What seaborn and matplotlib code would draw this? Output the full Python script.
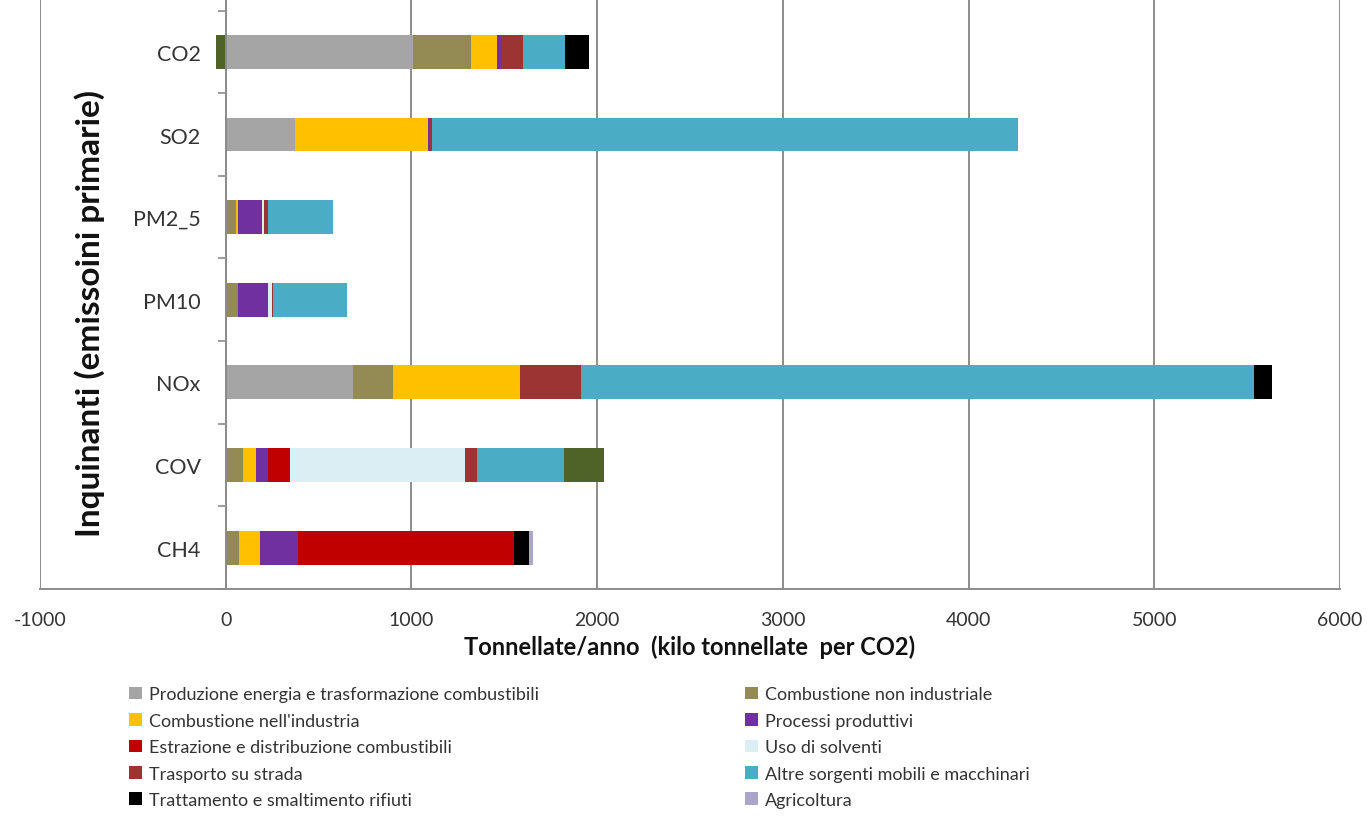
import numpy as np
import pandas as pd
import matplotlib
matplotlib.use("Agg")
import matplotlib.pyplot as plt
import seaborn as sns
from matplotlib.patches import Patch
from matplotlib.ticker import FixedLocator

# Pollutants (top to bottom)
inquinanti = ["CO2", "SO2", "PM2_5", "PM10", "NOx", "COV", "CH4"]

# Emission sources, in stacking order
fonti = [
    "Produzione energia e trasformazione combustibili",
    "Combustione non industriale",
    "Combustione nell'industria",
    "Processi produttivi",
    "Estrazione e distribuzione combustibili",
    "Uso di solventi",
    "Trasporto su strada",
    "Altre sorgenti mobili e macchinari",
    "Trattamento e smaltimento rifiuti",
    "Agricoltura",
    "Altre sorgenti e assorbimenti",
]

# Values per source, one entry per pollutant (same order as `inquinanti`)
produzione_energia = [1010, 371, 0, 0, 688, 0, 0]
combustione_non_ind = [313, 0, 55, 65, 213, 91, 72]
combustione_ind = [139, 720, 10, 0, 681, 72, 113]
processi_produttivi = [18, 8, 129, 161, 0, 63, 206]
estrazione_distrib = [0, 0, 0, 0, 0, 119, 1160]
uso_solventi = [0, 0, 14, 21, 0, 945, 0]
trasporto_strada = [120, 12, 18, 10, 332, 65, 0]
altre_mobili = [228, 3155, 353, 394, 3624, 466, 0]
rifiuti = [129, 0, 0, 0, 96, 0, 81]
agricoltura = [0, 0, 0, 0, 0, 0, 25]
assorbimenti = [-55, 0, 0, 0, 0, 215, 0]

serie = [produzione_energia, combustione_non_ind, combustione_ind,
         processi_produttivi, estrazione_distrib, uso_solventi,
         trasporto_strada, altre_mobili, rifiuti, agricoltura, assorbimenti]

colori = ["#A5A5A5", "#948A54", "#FFC000", "#7030A0", "#C00000",
          "#DAEEF3", "#9B3432", "#4BACC6", "#000000", "#A9A6C9", "#4F6228"]

sns.set_theme(style="white")
plt.rcParams["font.family"] = ["Lato", "DejaVu Sans"]
plt.rcParams["axes.unicode_minus"] = False

fig = plt.figure(figsize=(13.67, 8.37), dpi=100)
ax = fig.add_axes([40 / 1367, 1 - 590 / 837, 1300 / 1367, 590 / 837])

vals = np.array(serie, dtype=float)
pos = np.clip(vals, 0, None)
neg = np.clip(vals, None, 0)
cum = np.cumsum(pos, axis=0)

# Stacked bars: draw cumulative totals from the outermost segment inwards
for i in range(len(fonti) - 1, -1, -1):
    df = pd.DataFrame({"inquinante": inquinanti, "valore": cum[i]})
    sns.barplot(data=df, x="valore", y="inquinante", order=inquinanti,
                color=colori[i], width=0.41, linewidth=0, saturation=1,
                orient="h", ax=ax, errorbar=None)

# Negative contributions (absorptions)
for i in range(len(fonti)):
    if neg[i].min() < 0:
        df = pd.DataFrame({"inquinante": inquinanti, "valore": neg[i]})
        sns.barplot(data=df, x="valore", y="inquinante", order=inquinanti,
                    color=colori[i], width=0.41, linewidth=0, saturation=1,
                    orient="h", ax=ax, errorbar=None)

ax.set_xlim(-1000, 6000)
ax.set_ylim(6.5, -0.64)
ax.set_xticks(np.arange(-1000, 6001, 1000))
ax.set_axisbelow(True)
ax.grid(axis="x", color="#8C8C8C", linewidth=1.4)
ax.grid(axis="y", visible=False)

for s in ["top", "right"]:
    ax.spines[s].set_visible(False)
ax.spines["left"].set_position(("data", 0))
ax.spines["left"].set_color("#8C8C8C")
ax.spines["left"].set_linewidth(1.4)
ax.spines["bottom"].set_color("#8C8C8C")
ax.spines["bottom"].set_linewidth(1.4)

ax.tick_params(axis="y", which="major", length=0, pad=18, labelsize=15.5,
               labelcolor="#333333")
ax.yaxis.set_minor_locator(FixedLocator(np.arange(-0.5, 7.0, 1.0)))
ax.tick_params(axis="y", which="minor", length=6, width=1.2, color="#8C8C8C",
               direction="out", left=True)
ax.tick_params(axis="x", length=0, pad=16, labelsize=14, labelcolor="#333333")

ax.set_xlabel("Tonnellate/anno  (kilo tonnellate  per CO2)", fontsize=17,
              fontweight="bold", color="#111111")
ax.xaxis.set_label_coords(0.5, -0.077)
ax.xaxis.label.set_va("top")
ax.set_ylabel("Inquinanti (emissoini primarie)", fontsize=24,
              fontweight="bold", color="#111111")
ax.yaxis.set_label_coords(0.050, 0.468)

# Legend: two columns, filled row by row
handles = [Patch(facecolor=colori[i], edgecolor="none") for i in range(10)]
labels = fonti[:10]
ordine = [0, 2, 4, 6, 8, 1, 3, 5, 7, 9]
fig.legend([handles[k] for k in ordine], [labels[k] for k in ordine],
           loc="upper left", bbox_to_anchor=(122 / 1367, 1 - 680 / 837),
           ncol=2, frameon=False, fontsize=13, handlelength=0.7,
           handleheight=0.7, handletextpad=0.4, columnspacing=11.4,
           labelspacing=0.58, borderaxespad=0, labelcolor="#333333")

fig.savefig("out.png", dpi=100)
